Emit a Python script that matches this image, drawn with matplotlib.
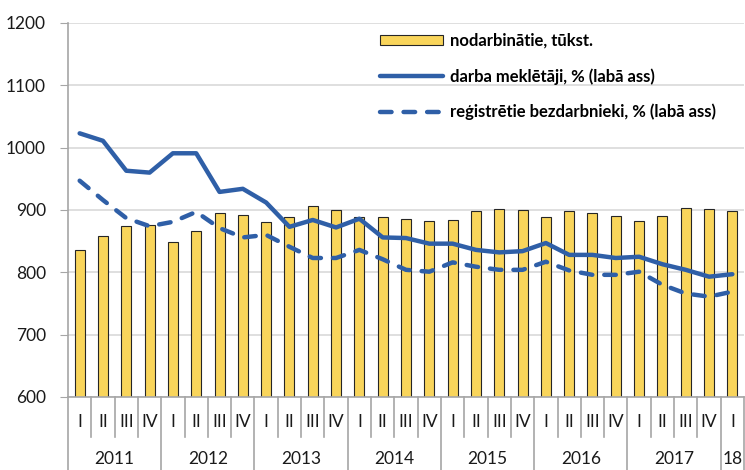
import numpy as np
import matplotlib
matplotlib.use("Agg")
from matplotlib import pyplot as plt
from matplotlib.lines import Line2D
from matplotlib.patches import Patch
from matplotlib.transforms import blended_transform_factory

plt.rcParams["font.family"] = ["Lato", "DejaVu Sans"]

# Quarters 2011 Q1 .. 2018 Q1
quarters = ["I", "II", "III", "IV"] * 7 + ["I"]
years = ["2011", "2012", "2013", "2014", "2015", "2016", "2017", "18"]

# nodarbinātie, tūkst. (bars, left axis)
employed = [836, 858, 875, 876, 848, 866, 895, 892,
            880, 889, 906, 900, 888, 889, 885, 882,
            884, 898, 902, 900, 889, 898, 895, 890,
            882, 891, 903, 902, 898]

# darba meklētāji, % (right axis, shown in left-axis units as drawn)
job_seekers = [1023, 1011, 963, 960, 991, 991, 929, 934,
               912, 873, 884, 872, 886, 856, 855, 846,
               846, 836, 832, 834, 847, 828, 828, 823,
               825, 813, 804, 793, 797]

# reģistrētie bezdarbnieki, % (right axis, shown in left-axis units)
registered = [947, 916, 887, 874, 881, 897, 871, 856,
              860, 841, 823, 823, 836, 821, 804, 801,
              816, 809, 804, 804, 817, 803, 796, 796,
              801, 780, 766, 761, 769]

BAR_COLOR = "#F9D55B"
LINE_COLOR = "#2F5FA7"
GRID_COLOR = "#D9D9D9"
AXIS_COLOR = "#A6A6A6"

W, H = 745, 470
fig = plt.figure(figsize=(W / 100, H / 100), dpi=100)
ax = fig.add_axes([68 / W, 1 - 397 / H, 676 / W, (397 - 23) / H])

x = np.arange(len(employed))
ax.bar(x, employed, width=0.43, color=BAR_COLOR, edgecolor="#262626",
       linewidth=0.8, zorder=2)
ax.plot(x, job_seekers, color=LINE_COLOR, lw=3.2, solid_capstyle="round",
        solid_joinstyle="round", zorder=3)
ax.plot(x, registered, color=LINE_COLOR, lw=3.2, dashes=(2.6, 2.7),
        dash_capstyle="round", dash_joinstyle="round", zorder=3)

ax.set_xlim(-0.5, len(employed) - 0.5)
ax.set_ylim(600, 1200)
ax.set_yticks(range(600, 1201, 100))
ax.yaxis.grid(True, color=GRID_COLOR, lw=1.2, zorder=0)
ax.set_axisbelow(True)
ax.tick_params(axis="y", length=6, color=AXIS_COLOR, pad=10, labelsize=12.5,
               labelcolor="#1a1a1a")
ax.set_xticks([])
for side in ("top", "right"):
    ax.spines[side].set_visible(False)
ax.spines["left"].set_color(AXIS_COLOR)
ax.spines["bottom"].set_color(AXIS_COLOR)
ax.spines["left"].set_linewidth(1.2)
ax.spines["bottom"].set_linewidth(1.2)

# two-level category axis drawn below the plot
tr = blended_transform_factory(ax.transData, fig.transFigure)
y_axis = 1 - 397 / H
y_qsep = 1 - 437 / H
for k in range(len(employed) + 1):
    edge = k - 0.5
    bottom = 0.0 if (k % 4 == 0 or k == len(employed)) else y_qsep
    ax.add_line(Line2D([edge, edge], [y_axis, bottom], transform=tr,
                       color=AXIS_COLOR, lw=1.2, clip_on=False))
for k, q in enumerate(quarters):
    ax.text(k, 1 - 422 / H, q, transform=tr, ha="center", va="center",
            fontsize=12.5, color="#1a1a1a")
for i, yr in enumerate(years):
    start = 4 * i
    end = min(4 * i + 3, len(employed) - 1)
    ax.text((start + end) / 2, 1 - 459 / H, yr, transform=tr, ha="center",
            va="center", fontsize=12.5, color="#1a1a1a")

handles = [
    Patch(facecolor=BAR_COLOR, edgecolor="#262626", linewidth=0.8),
    Line2D([], [], color=LINE_COLOR, lw=3.2, solid_capstyle="round"),
    Line2D([], [], color=LINE_COLOR, lw=3.2, dashes=(2.6, 2.7),
           dash_capstyle="round"),
]
labels = ["nodarbinātie, tūkst.", "darba meklētāji, % (labā ass)",
          "reģistrētie bezdarbnieki, % (labā ass)"]
fig.legend(handles, labels, loc="upper left",
           bbox_to_anchor=(380 / W, 1 - 33 / H), frameon=False,
           borderpad=0, borderaxespad=0, handlelength=3.75, handleheight=0.5,
           handletextpad=0.45, labelspacing=1.15,
           prop={"weight": "bold", "size": 12})

fig.savefig("out.png", dpi=100)
